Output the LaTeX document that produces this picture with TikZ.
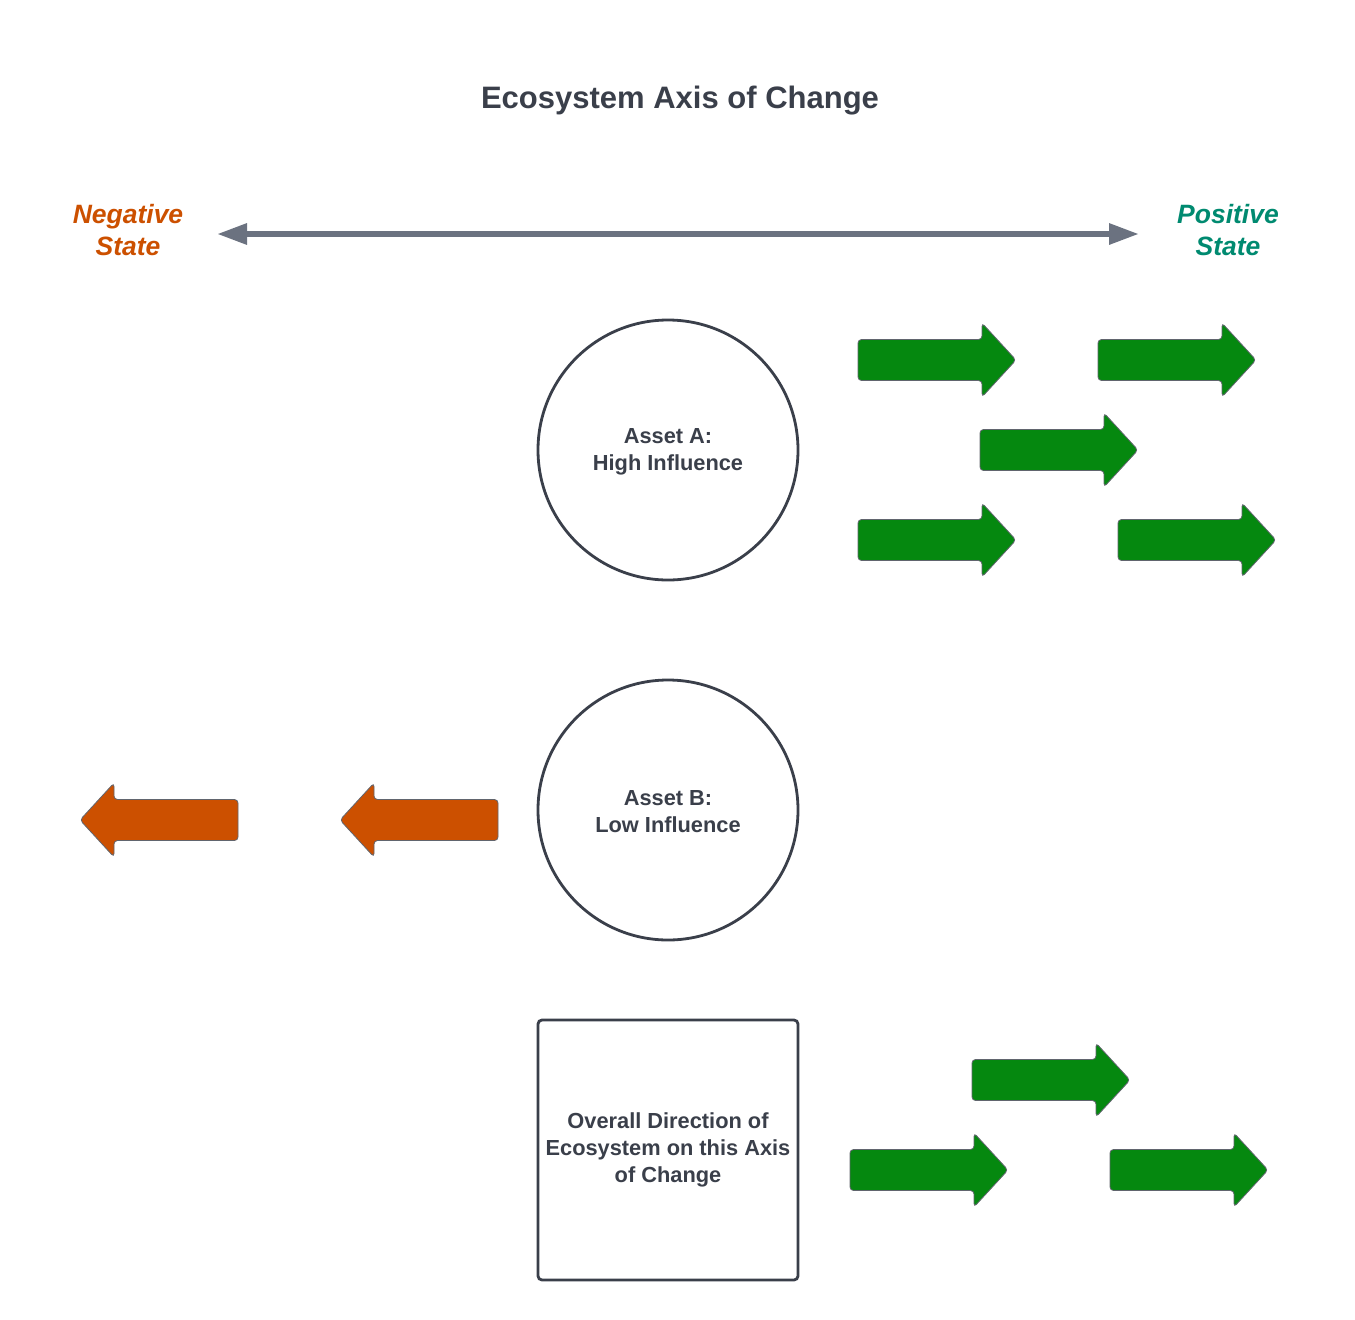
\documentclass[tikz,border=0pt]{standalone}
\usepackage{fontspec}
\setmainfont{Liberation Sans}
\usetikzlibrary{arrows.meta}
\definecolor{ink}{HTML}{3A3F4A}
\definecolor{axisgray}{HTML}{6B7280}
\definecolor{arrowgreen}{HTML}{05880F}
\definecolor{arroworange}{HTML}{CC5000}
\definecolor{negcol}{HTML}{CC5000}
\definecolor{poscol}{HTML}{008A70}
\tikzset{
  arrowline/.style={draw=ink!80, line width=0.8pt, rounded corners=3.5pt},
  rarrow/.pic={\draw[arrowline, fill=arrowgreen] (0,-20.5) -- (124,-20.5) -- (124,-37) -- (158,0) -- (124,37) -- (124,20.5) -- (0,20.5) -- cycle;},
  larrow/.pic={\draw[arrowline, fill=arroworange] (0,-20.5) -- (-124,-20.5) -- (-124,-37) -- (-158,0) -- (-124,37) -- (-124,20.5) -- (0,20.5) -- cycle;},
  asset/.style={circle, draw=ink, line width=2.8pt, minimum size=260pt, inner sep=0pt, align=center, text=ink, font=\fontsize{21.8}{27}\selectfont\bfseries},
  overall/.style={rectangle, rounded corners=4pt, draw=ink, line width=2.8pt, minimum width=260pt, minimum height=260pt, inner sep=1pt, align=center, text=ink, font=\fontsize{21.8}{27}\selectfont\bfseries},
  statelbl/.style={align=center, font=\fontsize{26.5}{32}\selectfont\bfseries\itshape},
}
\begin{document}
\begin{tikzpicture}[x=1pt, y=-1pt]
\useasboundingbox[fill=white] (0,0) rectangle (1355,1320);
\node[text=ink, font=\fontsize{31}{36}\selectfont\bfseries] (title) at (680,101) {Ecosystem Axis of Change};
\node[statelbl, text=negcol] (neg) at (128,230) {Negative\\State};
\node[statelbl, text=poscol] (pos) at (1228,230) {Positive\\State};
\coordinate (axL) at (217,234);
\coordinate (axR) at (1139,234);
\draw[axisgray, line width=6pt, {Triangle[length=30pt,width=20pt]}-{Triangle[length=30pt,width=20pt]}] (axL) -- (axR);

\node[asset] (assetA) at (668,450) {};
\node[text=ink, align=center, font=\fontsize{21.8}{27}\selectfont\bfseries] (assetAtxt) at (668,452) {Asset A:\\High Influence};
\node[asset] (assetB) at (668,810) {};
\node[text=ink, align=center, font=\fontsize{21.8}{27}\selectfont\bfseries] (assetBtxt) at (668,812) {Asset B:\\Low Influence};
\node[overall] (overall) at (668,1150) {Overall Direction of\\Ecosystem on this Axis\\of Change};

\pic at (858,360) {rarrow};
\pic at (1098,360) {rarrow};
\pic at (980,450) {rarrow};
\pic at (858,540) {rarrow};
\pic at (1118,540) {rarrow};
\pic at (972,1080) {rarrow};
\pic at (850,1170) {rarrow};
\pic at (1110,1170) {rarrow};

\pic at (238,820) {larrow};
\pic at (498,820) {larrow};
\end{tikzpicture}
\end{document}
